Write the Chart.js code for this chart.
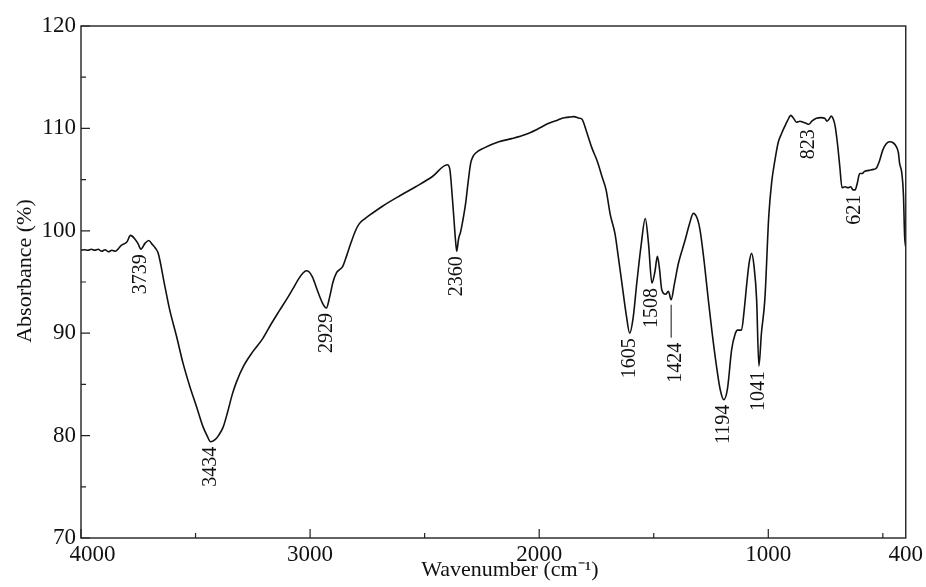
<!DOCTYPE html>
<html>
<head>
<meta charset="utf-8">
<script src="https://cdn.jsdelivr.net/npm/chart.js@4.4.0/dist/chart.umd.min.js"></script>
<style>
  html, body { margin: 0; padding: 0; background: #fff; }
  #wrap { width: 926px; height: 587px; }
</style>
</head>
<body>
<div id="wrap"><canvas id="irChart"></canvas></div>
<script>
// spectrum (wavenumber in cm-1, absorbance in %)
const wavenumbers = [
  4000, 3985, 3970, 3955, 3940, 3925, 3910, 3895, 3880, 3865, 3850, 3835, 3823, 3800, 3784, 3765, 3750, 3739, 3720, 3704,
  3690, 3675, 3663, 3634, 3613, 3583, 3555, 3525, 3496, 3468, 3450, 3434, 3415, 3400, 3380, 3360, 3340, 3322, 3290, 3250,
  3206, 3170, 3134, 3100, 3076, 3050, 3030, 3017, 3005, 2990, 2967, 2945, 2929, 2915, 2900, 2885, 2872, 2858, 2840, 2822,
  2800, 2785, 2760, 2742, 2684, 2610, 2539, 2466, 2401, 2390, 2380, 2372, 2365, 2360, 2352, 2343, 2335, 2321, 2310, 2299,
  2290, 2277, 2240, 2176, 2120, 2060, 2010, 1958, 1920, 1900, 1870, 1849, 1825, 1813, 1795, 1770, 1745, 1726, 1708, 1690,
  1669, 1655, 1639, 1620, 1605, 1590, 1574, 1555, 1537, 1523, 1508, 1495, 1484, 1475, 1465, 1448, 1436, 1424, 1410, 1392,
  1363, 1345, 1327, 1310, 1298, 1280, 1262, 1245, 1226, 1210, 1194, 1178, 1160, 1145, 1134, 1117, 1105, 1095, 1084, 1073,
  1062, 1051, 1041, 1030, 1015, 998, 985, 971, 957, 942, 928, 915, 902, 890, 877, 862, 848, 835, 823, 810,
  790, 770, 754, 744, 735, 725, 716, 708, 698, 688, 678, 665, 652, 640, 630, 621, 612, 601, 590, 580,
  560, 540, 529, 515, 500, 485, 471, 455, 442, 432, 427, 417, 410, 405, 400
];
const absorbance = [
  98.1, 98.15, 98.1, 98.2, 98.1, 98.2, 98.0, 98.15, 97.95, 98.1, 98.0, 98.3, 98.6, 98.9, 99.55, 99.2, 98.7, 98.2, 98.8, 99.06,
  98.7, 98.3, 97.8, 94.6, 92.3, 89.7, 87.1, 84.8, 82.85, 80.9, 80.0, 79.4, 79.6, 80.0, 80.8, 82.3, 84.0, 85.2, 86.8, 88.2,
  89.5, 90.9, 92.2, 93.4, 94.3, 95.3, 95.9, 96.1, 96.0, 95.5, 94.1, 92.9, 92.46, 93.5, 95.0, 95.9, 96.2, 96.5, 97.6, 98.8,
  100.1, 100.7, 101.2, 101.5, 102.4, 103.4, 104.3, 105.3, 106.45, 106.0, 103.5, 101.1, 99.0, 98.0, 99.2, 99.9, 100.8, 102.7, 104.8, 106.6,
  107.2, 107.6, 108.1, 108.7, 109.0, 109.4, 109.9, 110.5, 110.8, 111.0, 111.1, 111.15, 111.0, 110.9, 109.8, 108.1, 106.7, 105.3, 104.0, 101.6,
  99.7, 97.5, 94.9, 91.8, 90.0, 91.5, 94.9, 98.6, 101.2, 98.8, 94.9, 96.0, 97.5, 96.3, 94.25, 93.8, 94.1, 93.27, 94.8, 96.85,
  99.1, 100.6, 101.7, 101.2, 100.1, 97.0, 93.3, 90.0, 86.76, 84.5, 83.5, 84.6, 88.4, 89.9, 90.3, 90.3, 92.3, 94.6, 96.8, 97.8,
  96.5, 93.3, 86.8, 90.0, 93.3, 101.4, 104.8, 106.9, 108.6, 109.5, 110.2, 110.8, 111.27, 111.0, 110.6, 110.7, 110.6, 110.5, 110.4, 110.7,
  111.0, 111.05, 111.0, 110.7, 110.9, 111.2, 110.9, 110.2, 108.5, 106.3, 104.2, 104.3, 104.2, 104.3, 104.0, 104.0, 104.6, 105.6, 105.6, 105.8,
  105.9, 106.0, 106.1, 106.8, 107.9, 108.5, 108.7, 108.6, 108.25, 107.6, 106.6, 105.6, 103.5, 99.5, 98.4
];

// marked bands
const peakWavenumbers = [3739, 3434, 2929, 2360, 1605, 1508, 1424, 1194, 1041, 823, 621];
const peakLabels = ['3739', '3434', '2929', '2360', '1605', '1508', '1424', '1194', '1041', '823', '621'];

// axis ticks
const xTickValues = [4000, 3500, 3000, 2500, 2000, 1500, 1000, 500, 400];
const xTickLabels = ['4000', '', '3000', '', '2000', '', '1000', '', '400'];

const serif = '"Liberation Serif", "Times New Roman", serif';
const ink = '#111';

// frame round the plot + small inward ticks
const framePlugin = {
  id: 'frame',
  afterDraw(chart) {
    const { ctx, chartArea: a, scales } = chart;
    ctx.save();
    ctx.strokeStyle = '#222';
    ctx.lineWidth = 1.4;
    ctx.strokeRect(a.left, a.top, a.right - a.left, a.bottom - a.top);

    ctx.lineWidth = 1.2;
    ctx.beginPath();
    scales.y.ticks.forEach(t => {
      const y = scales.y.getPixelForValue(t.value);
      const len = t.value % 10 === 0 ? 9 : 5;
      ctx.moveTo(a.left, y);
      ctx.lineTo(a.left + len, y);
    });
    scales.x.ticks.forEach(t => {
      if (t.value === 400) return;
      const x = scales.x.getPixelForValue(t.value);
      const len = t.value % 1000 === 0 ? 9 : 5;
      ctx.moveTo(x, a.bottom);
      ctx.lineTo(x, a.bottom - len);
    });
    ctx.stroke();
    ctx.restore();
  }
};

// vertical band labels under each minimum
const peakPlugin = {
  id: 'peaks',
  afterDatasetsDraw(chart) {
    const { ctx, scales } = chart;
    ctx.save();
    ctx.fillStyle = ink;
    ctx.strokeStyle = ink;
    ctx.font = '20px ' + serif;
    ctx.textBaseline = 'middle';
    ctx.textAlign = 'right';
    peakWavenumbers.forEach((w, i) => {
      const idx = wavenumbers.indexOf(w);
      const x = scales.x.getPixelForValue(w);
      let y = scales.y.getPixelForValue(absorbance[idx]) + 5;
      let tx = x;
      if (peakLabels[i] === '1424') {
        // this one hangs lower on a short leader line
        ctx.lineWidth = 1;
        ctx.beginPath();
        ctx.moveTo(x, y);
        ctx.lineTo(x, y + 33);
        ctx.stroke();
        y += 38;
        tx = x + 5;
      }
      ctx.save();
      ctx.translate(tx, y);
      ctx.rotate(-Math.PI / 2);
      ctx.fillText(peakLabels[i], 0, 0);
      ctx.restore();
    });
    ctx.restore();
  }
};

const points = wavenumbers.map((w, i) => ({ x: w, y: absorbance[i] }));

new Chart(document.getElementById('irChart'), {
  type: 'line',
  data: {
    datasets: [{
      data: points,
      borderColor: ink,
      borderWidth: 1.6,
      pointRadius: 0,
      fill: false,
      cubicInterpolationMode: 'monotone'
    }]
  },
  options: {
    responsive: true,
    maintainAspectRatio: false,
    animation: false,
    devicePixelRatio: 1,
    layout: { padding: { top: 26, right: 18, left: 0, bottom: 0 } },
    plugins: {
      legend: { display: false },
      tooltip: { enabled: false }
    },
    scales: {
      x: {
        type: 'linear',
        min: 400,
        max: 4000,
        reverse: true,
        grid: { display: false, drawTicks: false },
        border: { display: false },
        afterBuildTicks: scale => {
          scale.ticks = xTickValues.map(v => ({ value: v }));
        },
        afterFit: scale => { scale.height = 49; },
        ticks: {
          autoSkip: false,
          maxRotation: 0,
          padding: 3,
          color: ink,
          font: { family: serif, size: 23 },
          callback: (v, i) => (v === 4000 ? '    ' : '') + xTickLabels[i]
        },
        title: {
          display: true,
          text: '      Wavenumber (cm\u207B\u00B9)',
          color: ink,
          font: { family: serif, size: 22, lineHeight: 1 },
          padding: { top: 0, bottom: 6 }
        }
      },
      y: {
        min: 70,
        max: 120,
        grid: { display: false, drawTicks: false },
        border: { display: false },
        afterFit: scale => { scale.width = 81; },
        ticks: {
          stepSize: 5,
          padding: 5,
          color: ink,
          font: { family: serif, size: 23 },
          callback: v => (v % 10 === 0 ? v : '')
        },
        title: {
          display: true,
          text: '    Absorbance (%)',
          color: ink,
          font: { family: serif, size: 22, lineHeight: 1 },
          padding: { top: 14, bottom: 0 }
        }
      }
    }
  },
  plugins: [framePlugin, peakPlugin]
});
</script>
</body>
</html>
